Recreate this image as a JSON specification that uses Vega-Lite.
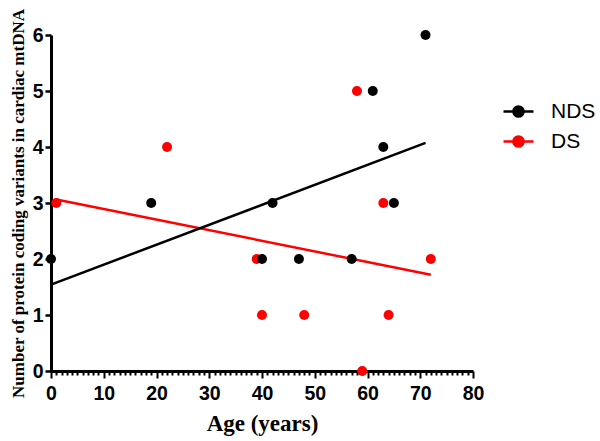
{
  "$schema": "https://vega.github.io/schema/vega-lite/v6.json",
  "width": 422,
  "height": 336,
  "autosize": "none",
  "padding": {"left": 51, "top": 35, "right": 127, "bottom": 70},
  "background": "white",
  "config": {"view": {"stroke": null}},
  "data": {
    "values": [
      {"group": "DS", "age": 1, "count": 3},
      {"group": "DS", "age": 22, "count": 4},
      {"group": "DS", "age": 39, "count": 2},
      {"group": "DS", "age": 40, "count": 1},
      {"group": "DS", "age": 48, "count": 1},
      {"group": "DS", "age": 58, "count": 5},
      {"group": "DS", "age": 59, "count": 0},
      {"group": "DS", "age": 63, "count": 3},
      {"group": "DS", "age": 64, "count": 1},
      {"group": "DS", "age": 72, "count": 2},
      {"group": "NDS", "age": 0, "count": 2},
      {"group": "NDS", "age": 19, "count": 3},
      {"group": "NDS", "age": 40, "count": 2},
      {"group": "NDS", "age": 42, "count": 3},
      {"group": "NDS", "age": 47, "count": 2},
      {"group": "NDS", "age": 57, "count": 2},
      {"group": "NDS", "age": 61, "count": 5},
      {"group": "NDS", "age": 63, "count": 4},
      {"group": "NDS", "age": 65, "count": 3},
      {"group": "NDS", "age": 71, "count": 6}
    ]
  },
  "encoding": {
    "x": {
      "field": "age",
      "type": "quantitative",
      "scale": {"domain": [0, 80], "nice": false, "zero": false},
      "axis": {
        "title": "Age (years)",
        "titleFont": "Liberation Serif",
        "titleFontWeight": "bold",
        "titleFontSize": 23,
        "titleColor": "black",
        "titlePadding": 10,
        "values": [0,1,2,3,4,5,6,7,8,9,10,11,12,13,14,15,16,17,18,19,20,21,22,23,24,25,26,27,28,29,30,31,32,33,34,35,36,37,38,39,40,41,42,43,44,45,46,47,48,49,50,51,52,53,54,55,56,57,58,59,60,61,62,63,64,65,66,67,68,69,70,71,72,73,74,75,76,77,78,79,80],
        "labelExpr": "datum.value % 10 === 0 ? datum.label : ''",
        "labelOverlap": false,
        "labelFont": "Liberation Sans",
        "labelFontWeight": "bold",
        "labelFontSize": 19.5,
        "labelColor": "black",
        "labelPadding": 6,
        "labelFlush": false,
        "domainColor": "black",
        "domainWidth": 3,
        "tickColor": "black",
        "tickWidth": 2,
        "tickSize": {"condition": {"test": "datum.value % 10 === 0", "value": 7}, "value": 4},
        "grid": false
      }
    },
    "y": {
      "field": "count",
      "type": "quantitative",
      "scale": {"domain": [0, 6], "nice": false},
      "axis": {
        "title": "Number of protein coding variants in cardiac mtDNA",
        "titleFont": "Liberation Serif",
        "titleFontWeight": "bold",
        "titleFontSize": 17,
        "titleColor": "black",
        "titlePadding": 5,
        "values": [0, 1, 2, 3, 4, 5, 6],
        "labelFont": "Liberation Sans",
        "labelFontWeight": "bold",
        "labelFontSize": 19.5,
        "labelColor": "black",
        "labelPadding": 2,
        "labelFlush": false,
        "domainColor": "black",
        "domainWidth": 3,
        "tickColor": "black",
        "tickWidth": 2.5,
        "tickSize": 6,
        "grid": false
      }
    },
    "color": {
      "field": "group",
      "type": "nominal",
      "scale": {"domain": ["NDS", "DS"], "range": ["#000000", "#ff0000"]},
      "legend": {
        "orient": "none",
        "legendX": 451,
        "legendY": 60,
        "title": null,
        "symbolType": "M-1,0L1,0M-0.34,0A0.34,0.34,0,1,1,0.34,0A0.34,0.34,0,1,1,-0.34,0Z",
        "symbolSize": 900,
        "symbolStrokeWidth": 2.5,
        "labelFont": "Liberation Sans",
        "labelFontSize": 21,
        "labelColor": "black",
        "labelOffset": 16,
        "rowPadding": 3,
        "encode": {
          "symbols": {
            "update": {
              "fill": {"scale": "color", "field": "value"},
              "stroke": {"scale": "color", "field": "value"},
              "opacity": {"value": 1},
              "fillOpacity": {"value": 1}
            }
          }
        }
      }
    }
  },
  "layer": [
    {
      "transform": [{"regression": "count", "on": "age", "groupby": ["group"]}],
      "mark": {"type": "line", "strokeWidth": 2.5}
    },
    {
      "mark": {"type": "point", "filled": true, "size": 100, "opacity": 1}
    }
  ]
}
